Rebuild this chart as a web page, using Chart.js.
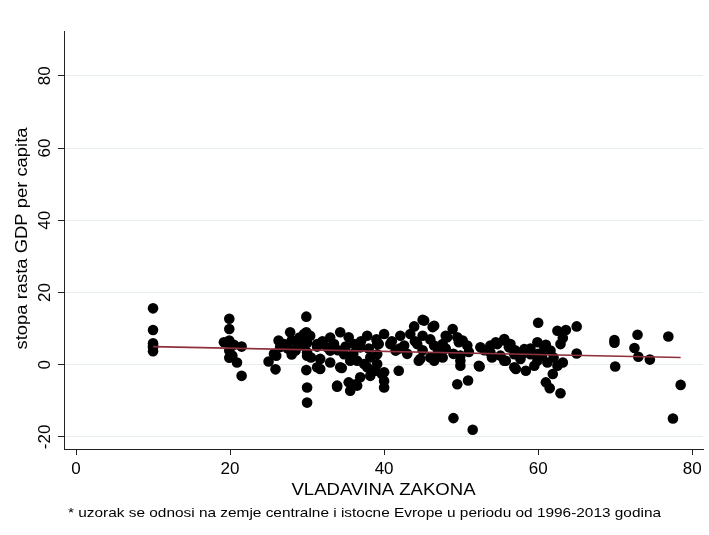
<!DOCTYPE html>
<html>
<head>
<meta charset="utf-8">
<script src="https://cdn.jsdelivr.net/npm/chart.js@4.4.0/dist/chart.umd.min.js"></script>
<style>
  html, body { margin: 0; padding: 0; background: #fff; }
  #wrap { width: 709px; height: 535px; position: relative; }
</style>
</head>
<body>
<div id="wrap"><canvas id="chart"></canvas></div>
<script>
// rule of law score (x) and GDP per capita growth (y)
const ruleOfLaw = [
  10, 10, 10, 10, 10, 10,
  19.9, 19.9, 19.9, 20, 19.9, 19.9, 19.2, 20.5, 20.3, 21.5, 20.9, 21.5,
  25, 25.9, 25.7, 26, 26.3, 26.5, 27, 27.8, 28, 28.3, 28.5, 28.7, 29.1, 29.6, 29.9, 29.9,
  30, 30, 30, 29.9, 30, 30, 30.4, 30.5, 31.3, 31.3, 31.3, 31.7, 31.7, 27.5, 28, 29,
  32.6, 33, 33, 33.5, 34.3, 34.3, 33.9, 33.9, 34.5, 34.8, 35.4, 35.4, 35.6, 35.6, 36.1,
  36.3, 36.5, 36.5, 36.9, 36.9, 37.4, 37.8, 37.8, 38.2, 38.2, 38.7, 38.9, 39.1, 39.1,
  39.1, 39.3, 39.7, 32, 33, 34, 35, 36, 37, 38, 39,
  40, 40, 40, 40, 40.8, 41.5, 41.9, 42.1, 42.6, 43.4, 43.9, 44.3, 44.5, 44.7, 45, 45,
  45.2, 46, 46.3, 46.5, 46.5, 46.5, 47.6, 47.6, 48, 48.2, 48.9, 49, 49.5, 49.5, 49.7,
  49.9, 49.9, 49.9, 41, 42, 43, 44, 45, 46, 47, 48, 49,
  50.2, 50.8, 50.9, 51.5, 52.3, 52.5, 52.4, 53.8, 53.8, 54.5, 54.7, 55.1, 55.6, 55.6,
  55.6, 55.8, 56.2, 56.4, 56.9, 56.9, 57.1, 57.7, 58.2, 58.4, 59, 59.5, 59.9, 59.9,
  53, 54, 57, 58, 59, 51,
  60, 60.8, 61, 61.2, 61.5, 61.6, 61.9, 62.5, 62.5, 62.9, 62.9, 63.2, 63.2, 63.6, 65, 65,
  60.5, 61, 60, 62,
  69.9, 69.9, 70, 72.5, 72.9, 73, 74.5, 76.9, 77.5, 78.5
];
const gdpGrowth = [
  15.6, 9.6, 5.9, 4.8, 3.7, 5.3,
  12.7, 9.9, 6.7, 5.7, 3.9, 1.9, 6.2, 5.5, 2.5, 5, 0.6, -3.1,
  0.9, -1.3, 3, 2.5, 6.7, 4.9, 5.7, 9, 6.7, 3.9, 3.9, 6.2, 5.3, 8.5, 13.3, 9,
  6, 3.4, 2.5, -1.5, -6.3, -10.5, 8, 2, 5, 5.7, -0.7, 1.6, -1.2, 4.5, 2.8, 7.5,
  4.8, 0.6, 3.9, 5.7, 9, -0.7, -5.8, -6.1, -0.9, 2.9, 7.6, -4.9, -7.2, 1.1, 5.7,
  -5.4, -5.8, 1.1, -3.5, 4.8, 0.2, 8, -0.7, 2, -3.1, -1.7, -1.7, 5.7, 2.9,
  0.2, 5.7, -2.6, 6.5, 7.5, 4, 5, 3, 6.5, 4.5, 7,
  8.5, -2.1, -4.5, -6.3, 5.7, 3.9, -1.7, 8, 5.3, 8.5, 10.6, 5.7, 1.1, 1.6, 12.4, 8,
  12.2, 2, 10.4, 5.3, 1.1, 10.8, 5.7, 2, 8, 7.6, 9.9, -14.8, 7.6, -5.4, 6.2,
  2.5, 1.1, -0.3, 6.5, 4.5, 3, 6.5, 4, 7, 3.5, 4.5, 3,
  6.7, 5.3, -4.4, -18, -0.3, 4.8, -0.5, 5.3, 3.4, 6.2, 5.7, 2.5, 7.1, 6.7,
  1.1, 1.1, 4.8, 5.7, 2.9, -0.7, -1.2, 1.6, 4.3, -1.7, 2.9, -0.3, 6.2, 1.1,
  4, 2, 4, 3, 4.5, 3.5,
  11.6, 4.8, -4.9, 0.6, -6.5, 3.9, -2.6, 9.4, -0.3, 5.7, -7.9, 7.4, 0.6, 9.6, 10.6, 3.1,
  2.5, 5.5, 3, 2,
  6.8, 6.1, -0.5, 4.6, 8.3, 2.2, 1.4, 7.8, -14.9, -5.6
];

// fitted line end points
const fitX = [10, 78.5];
const fitY = [5.0, 2.0];

const xTicks = [0, 20, 40, 60, 80];
const yTicks = [-20, 0, 20, 40, 60, 80];

const xTitle = 'VLADAVINA ZAKONA';
const yTitle = 'stopa rasta GDP per capita';
const note = '* uzorak se odnosi na zemje centralne i istocne Evrope u periodu od 1996-2013 godina';

const FONT = "'Liberation Sans', Arial, sans-serif";

const points = ruleOfLaw.map((x, i) => ({x: x, y: gdpGrowth[i]}));
const fitLine = fitX.map((x, i) => ({x: x, y: fitY[i]}));

// text stretched to a given width (the original text is a bit wide)
function wideText(ctx, text, cx, cy, rot, width, align) {
  const w = ctx.measureText(text).width;
  ctx.save();
  ctx.translate(cx, cy);
  ctx.rotate(rot);
  ctx.scale(width / w, 1);
  ctx.textAlign = align;
  ctx.fillText(text, 0, 0);
  ctx.restore();
}

// rotated y tick labels, axis titles and the footnote
const extras = {
  id: 'extras',
  afterDraw(chart) {
    const ctx = chart.ctx;
    const ys = chart.scales.y;
    const area = chart.chartArea;
    ctx.save();
    ctx.fillStyle = '#000';
    ctx.textBaseline = 'alphabetic';
    ctx.font = '17px ' + FONT;
    ys.ticks.forEach(t => {
      const py = ys.getPixelForValue(t.value);
      ctx.save();
      ctx.translate(50, py);
      ctx.rotate(-Math.PI / 2);
      ctx.textAlign = 'center';
      ctx.fillText(String(t.value), 0, 0);
      ctx.restore();
    });
    ctx.font = '16.5px ' + FONT;
    wideText(ctx, xTitle, (area.left + area.right) / 2, 495, 0, 184, 'center');
    wideText(ctx, yTitle, 26.5, 238.5, -Math.PI / 2, 222, 'center');
    ctx.font = '13px ' + FONT;
    wideText(ctx, note, 68, 517, 0, 593, 'left');
    ctx.restore();
  }
};

new Chart(document.getElementById('chart'), {
  type: 'scatter',
  data: {
    datasets: [
      {
        type: 'line',
        data: fitLine,
        borderColor: '#8e2f3b',
        borderWidth: 1.6,
        pointRadius: 0,
        fill: false,
        order: 0
      },
      {
        data: points,
        backgroundColor: '#000',
        borderColor: '#000',
        borderWidth: 0,
        pointRadius: 5.3,
        order: 1
      }
    ]
  },
  options: {
    responsive: true,
    maintainAspectRatio: false,
    animation: false,
    layout: { padding: { top: 31, right: 6, left: 0, bottom: 0 } },
    plugins: { legend: { display: false }, tooltip: { enabled: false } },
    scales: {
      x: {
        type: 'linear',
        min: -1.56,
        max: 81.4,
        afterBuildTicks: s => { s.ticks = xTicks.map(v => ({value: v})); },
        afterFit: s => { s.height = 86; },
        grid: { color: 'rgba(0,0,0,0)', tickColor: '#222', tickLength: 6, drawOnChartArea: false },
        border: { color: '#222', width: 1 },
        ticks: { color: '#000', font: { family: FONT, size: 17 }, padding: 4, maxRotation: 0 },
        title: { display: false }
      },
      y: {
        type: 'linear',
        min: -23.35,
        max: 92.4,
        afterBuildTicks: s => { s.ticks = yTicks.map(v => ({value: v})); },
        afterFit: s => { s.width = 64; },
        grid: { color: '#e6eef1', lineWidth: 1, tickColor: '#222', tickLength: 6 },
        border: { color: '#222', width: 1 },
        ticks: { display: false },
        title: { display: false }
      }
    }
  },
  plugins: [extras]
});
</script>
</body>
</html>
